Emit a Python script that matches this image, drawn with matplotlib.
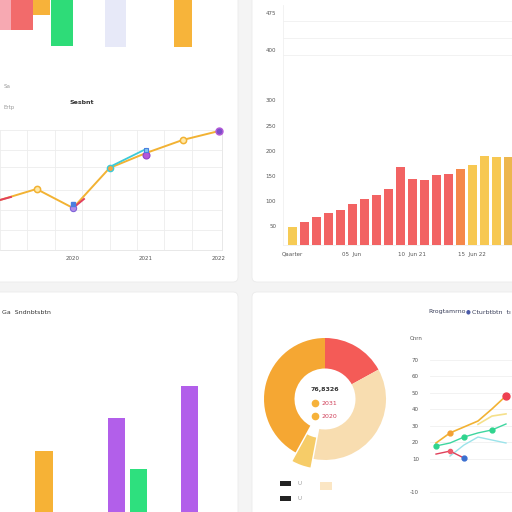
import numpy as np
import matplotlib
matplotlib.use('Agg')
import matplotlib.pyplot as plt
from matplotlib.patches import Rectangle, FancyBboxPatch

# top strip of bars (cut off at the top of the picture)
strip_pos = [0.25, 0.92, 1.74, 2.61, 4.85, 7.69]
strip_w = [0.5, 0.92, 0.71, 0.92, 0.88, 0.76]
strip_bottom = [3.6, 3.6, 6.8, 0.2, 0.0, 0.0]
strip_height = [20, 20, 20, 20, 20, 20]
strip_colors = ['#F7A9B2', '#F26B6B', '#F7B23A', '#2EDC78', '#E7E9F8', '#F7B43A']

# line chart
line_x = [0, 1, 2, 3, 4, 5, 6]
line_y = [50, 61, 42, 82, 97, 110, 119]
line_ticks = [2, 4, 6]
line_ticklabels = ['2020', '2021', '2022']

# top-right bar chart
bar_vals = [48, 58, 68, 76, 82, 94, 104, 112, 124, 168, 144, 142,
            152, 154, 164, 172, 190, 188, 188]
bar_colors = ['#F6CB55'] + ['#F26363'] * 13 + ['#F5884A'] + \
    ['#F7C852'] * 3 + ['#EDB64E']
bar_yticks = [50, 100, 150, 200, 250, 300, 400, 475]
bar_xticks = [0, 5, 10, 15]
bar_xlabels = ['Qaarter', '05  Jun', '10  Jun 21', '15  Jun 22']

# bottom-left grouped bars
grp_x = [0, 1, 1, 2]
grp_off = [0, 0, 1, 0]
grp_vals = [33.5, 51.6, 23.6, 69.2]
grp_colors = ['#F6B236', '#B25FEA', '#2EE07E', '#B25FEA']

# donut
donut_vals = [17, 36, 5, 42]
donut_colors = ['#F45B57', '#F8DDB0', '#F6CC68', '#F5A733']
donut_explode = [0, 0, 0.15, 0]

# multi line chart
ml_x = [0, 1, 2, 3, 4, 5]
ml_orange = [19.7, 25.8, 29.4, 33.0, 40.3, 48.2]
ml_pale = [np.nan, np.nan, np.nan, 31.0, 36.0, 37.3]
ml_teal = [17.9, 19.7, 23.3, 25.8, 27.6, 31.2]
ml_cyan = [np.nan, 11.8, 18.5, 23.3, 21.5, 19.7]
ml_red = [13.0, 14.8, 10.6, np.nan, np.nan, np.nan]
ml_yticks = [-10, 10, 20, 30, 40, 50, 60, 70]

W = 512.


def ax_at(fig, x0, y0, x1, y1):
    return fig.add_axes([x0 / W, 1 - y1 / W, (x1 - x0) / W, (y1 - y0) / W])


def card(fig, x0, y0, x1, y1):
    fig.add_artist(FancyBboxPatch(
        (x0 / W, 1 - y1 / W), (x1 - x0) / W, (y1 - y0) / W,
        boxstyle='round,pad=0,rounding_size=0.01', transform=fig.transFigure,
        fc='#FFFFFF', ec='#EBEBEB', lw=0.6, zorder=0))


def clean(ax):
    for s in ax.spines.values():
        s.set_visible(False)
    ax.set_xticks([])
    ax.set_yticks([])
    ax.patch.set_alpha(0)


fig = plt.figure(figsize=(5.12, 5.12), dpi=100, facecolor='#F4F4F4')
card(fig, -5, -5, 238, 282)
card(fig, 252, -5, 517, 282)
card(fig, -5, 292, 238, 517)
card(fig, 252, 292, 517, 517)

tk = dict(fontsize=4, color='#555555')

# ---- top-left: bar strip
ax = ax_at(fig, 0, 0, 238, 47)
ax.bar(strip_pos, strip_height, width=strip_w, bottom=strip_bottom,
       color=strip_colors)
ax.set_xlim(0, 10)
ax.set_ylim(0, 10)
clean(ax)

# ---- top-left: line chart
ax = ax_at(fig, 0, 130, 222, 250)
ax.set_xlim(0, 6.08)
ax.set_ylim(0, 120)
ax.set_xticks(np.arange(0, 6.5, 0.75), minor=True)
ax.set_yticks([0, 20, 40, 60, 83, 100, 120], minor=True)
ax.grid(which='minor', color='#EDEDED', lw=0.6)
ax.plot(line_x, line_y, color='#F2B233', lw=1.4, zorder=3, clip_on=False)
ax.plot([0, 0.3], [line_y[0], line_y[0] + 3], color='#E2405E', lw=1.4,
        zorder=4)
ax.plot([2, 2.3], [line_y[2], line_y[2] + 9], color='#E2405E', lw=1.4,
        zorder=4)
ax.plot(line_x[3:5], [line_y[3] + 1, line_y[4] + 4], color='#3CCAD8',
        lw=1.3, zorder=4)
ax.plot(line_x[1], line_y[1], 'o', ms=4.5, mfc='#FFE9A8', mec='#F2B233',
        mew=1.1, zorder=5)
ax.plot(line_x[5], line_y[5], 'o', ms=4.5, mfc='#FFE9A8', mec='#F2B233',
        mew=1.1, zorder=5)
ax.plot(line_x[2], line_y[2], 'o', ms=4.5, mfc='#B08CE8', mec='#7F62D8',
        mew=0.8, zorder=5)
ax.plot(line_x[2], line_y[2] + 4, 's', ms=3.5, mfc='#4A7FE0', mec='#4A7FE0',
        zorder=6)
ax.plot(line_x[3], line_y[3], 'o', ms=4.5, mfc='#F5A540', mec='#3CCAD8',
        mew=1.0, zorder=5)
ax.plot(line_x[4], line_y[4] - 2, 'o', ms=5, mfc='#B35AD8', mec='#8F3FC8',
        mew=0.8, zorder=5)
ax.plot(line_x[4], line_y[4] + 3, 's', ms=3.5, mfc='#80C8F0', mec='#4A7FE0',
        mew=0.8, zorder=6)
ax.plot(line_x[6], line_y[6], 'o', ms=5, mfc='#7D4FC8', mec='#B35AD8',
        mew=1.0, zorder=5, clip_on=False)
for s in ax.spines.values():
    s.set_color('#E4E4E4')
    s.set_linewidth(0.6)
ax.spines['left'].set_visible(False)
ax.spines['top'].set_visible(False)
ax.set_xticks(line_ticks)
ax.set_xticklabels(line_ticklabels, **tk)
ax.set_yticks([])
ax.tick_params(axis='both', which='both', length=0)
ax.tick_params(axis='x', pad=4)
fig.text(4 / W, 1 - 86 / W, 'Sa', fontsize=4, color='#9A9A9A', va='center')
fig.text(4 / W, 1 - 107 / W, 'Ertp', fontsize=4, color='#9A9A9A',
         va='center')
fig.text(70 / W, 1 - 102 / W, 'Sesbnt', fontsize=4.5, color='#333333',
         va='center', weight='bold')

# ---- top-right: bar chart
ax = ax_at(fig, 283, 5, 512, 245)
xb = np.arange(len(bar_vals))
ax.bar(xb, bar_vals, width=0.75, color=bar_colors, zorder=3)
ax.set_xlim(-0.75, 18.33)
ax.set_ylim(12, 490)
ax.set_yticks(bar_yticks)
ax.set_yticklabels([str(v) for v in bar_yticks], **tk)
ax.set_xticks(bar_xticks)
ax.set_xticklabels(bar_xlabels, **tk)
ax.tick_params(length=0, pad=5)
for v in [458, 425, 390]:
    ax.axhline(v, color='#F0F0F0', lw=0.6, zorder=1)
for s in ['top', 'right']:
    ax.spines[s].set_visible(False)
for s in ['left', 'bottom']:
    ax.spines[s].set_color('#F0F0F0')
    ax.spines[s].set_linewidth(0.6)

# ---- bottom-left: grouped bars
ax = ax_at(fig, 0, 330, 238, 512)
gx = [g + 0.296 * o for g, o in zip(grp_x, grp_off)]
ax.bar(gx, grp_vals, width=0.235, color=grp_colors)
ax.set_xlim(-0.605, 2.67)
ax.set_ylim(0, 100)
clean(ax)
fig.text(2 / W, 1 - 312 / W, 'Ga  Sndnbtsbtn', fontsize=4.5,
         color='#333333', va='center')

# ---- bottom-right: donut
ax = ax_at(fig, 264, 338, 386, 460)
ax.pie(donut_vals, colors=donut_colors, explode=donut_explode,
       startangle=90, counterclock=False, radius=1,
       wedgeprops=dict(width=0.5, edgecolor='none'))
ax.set_xlim(-1.0, 1.0)
ax.set_ylim(-1.0, 1.0)
ax.text(0, 0.15, '76,8326', ha='center', va='center', fontsize=4.5,
        color='#333333', weight='bold')
for yy, lab in [(-0.07, '2031'), (-0.28, '2020')]:
    ax.plot(-0.17, yy, 'o', ms=4.5, color='#F6B23A')
    ax.text(-0.06, yy, lab, ha='left', va='center', fontsize=4.5,
            color='#D0405A')
ax.axis('off')
for yy in [483, 498]:
    fig.add_artist(Rectangle((280 / W, 1 - (yy + 3) / W), 11 / W, 5 / W,
                             transform=fig.transFigure, fc='#222222',
                             ec='none'))
    fig.text(297 / W, 1 - (yy + 0.5) / W, 'U', fontsize=4, color='#999999',
             va='center')
fig.add_artist(Rectangle((320 / W, 1 - 490 / W), 12 / W, 8 / W,
                         transform=fig.transFigure, fc='#FBE6C4',
                         ec='none'))

# ---- bottom-right: multi line chart
ax = ax_at(fig, 430, 345, 512, 500)
ax.plot(ml_x, ml_orange, color='#F2B233', lw=1.2, zorder=3)
ax.plot(ml_x, ml_pale, color='#F5E08A', lw=1.2, zorder=2)
ax.plot(ml_x, ml_teal, color='#3ED6A0', lw=1.0, zorder=3)
ax.plot(ml_x, ml_cyan, color='#9BE3EA', lw=1.0, zorder=2)
ax.plot(ml_x, ml_red, color='#E0405A', lw=1.0, zorder=3)
ax.plot(ml_x[5], ml_orange[5], 'o', ms=5, color='#EE4050', zorder=5)
ax.plot(ml_x[1], ml_orange[1], 'o', ms=3.5, color='#F2A033', zorder=5)
ax.plot([ml_x[0], ml_x[2], ml_x[4]],
        [ml_teal[0], ml_teal[2], ml_teal[4]], 'o', ms=3.5, color='#2FD48E',
        zorder=5)
ax.plot(ml_x[2], ml_red[2], 'o', ms=3.5, color='#3B6FD0', zorder=5)
ax.plot(ml_x[1], ml_red[1], 'o', ms=3, color='#F05A6A', zorder=5)
ax.set_xlim(-0.43, 5.43)
ax.set_ylim(-14.8, 79)
ax.set_yticks(ml_yticks)
ax.set_yticklabels([str(v) for v in ml_yticks], **tk)
ax.set_xticks([])
ax.tick_params(length=0, pad=8)
ax.grid(axis='y', color='#F0F0F0', lw=0.6)
for s in ax.spines.values():
    s.set_visible(False)
fig.text(410 / W, 1 - 338 / W, 'Cnrn', fontsize=4, color='#555555',
         va='center')
fig.text(428 / W, 1 - 312 / W, 'Rrogtamrno', fontsize=4.5,
         color='#3A3F5A', va='center')
fig.text(466 / W, 1 - 312 / W, '\u25cf', fontsize=4, color='#4A5AA8',
         va='center')
fig.text(472 / W, 1 - 312 / W, 'Cturbtbtn  tı', fontsize=4.5,
         color='#3A3F5A', va='center')

fig.savefig('out.png', dpi=100, facecolor=fig.get_facecolor())
